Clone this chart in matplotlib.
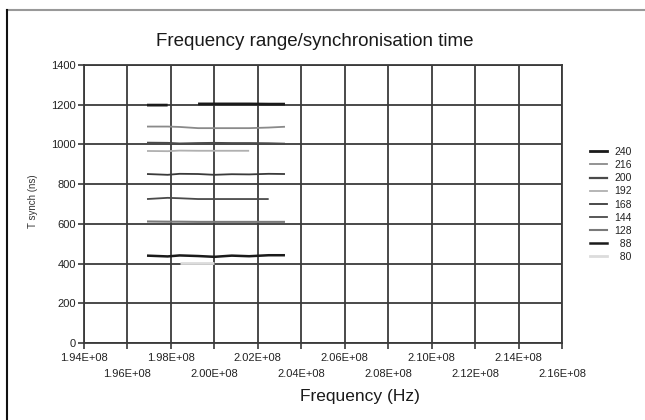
import numpy as np
import matplotlib
matplotlib.use("Agg")
import matplotlib.pyplot as plt
from matplotlib.lines import Line2D
from matplotlib.transforms import Bbox, TransformedBbox

plt.rcParams['font.family'] = ['Liberation Sans', 'DejaVu Sans']

# ---- data ----
freq = [1.969e8, 1.9785e8, 1.984e8, 1.9925e8, 2.000e8, 2.008e8, 2.016e8, 2.025e8, 2.0325e8]
nan = np.nan
t_2400 = [1198, 1198, nan, 1204, 1204, 1204, 1204, 1203, 1203]
t_2160 = [1090, 1090, 1088, 1082, 1082, 1082, 1082, 1085, 1089]
t_2000 = [1008, 1007, 1004, 1006, 1007, 1006, 1006, 1005, 1003]
t_1920 = [967, 966, 969, 968, 968, 968, 968, nan, nan]
t_1680 = [851, 847, 852, 851, 847, 850, 849, 852, 851]
t_1440 = [725, 731, 729, 725, 725, 725, 725, 725, nan]
t_1280 = [612, 611, 611, 610, 610, 610, 610, 610, 610]
t_880 = [440, 436, 441, 438, 434, 440, 437, 442, 442]
t_800 = [nan, nan, 404, 404, 404, nan, nan, nan, nan]

series_labels = ["2400", "2160", "2000", "1920", "1680", "1440", "1280", "\u2007880", "\u2007800"]
series_values = [t_2400, t_2160, t_2000, t_1920, t_1680, t_1440, t_1280, t_880, t_800]

xticks_major = [1.94e8, 1.98e8, 2.02e8, 2.06e8, 2.10e8, 2.14e8]
xticks_major_labels = ["1.94E+08", "1.98E+08", "2.02E+08", "2.06E+08", "2.10E+08", "2.14E+08"]
xticks_minor = [1.96e8, 2.00e8, 2.04e8, 2.08e8, 2.12e8, 2.16e8]
xticks_minor_labels = ["1.96E+08", "2.00E+08", "2.04E+08", "2.08E+08", "2.12E+08", "2.16E+08"]
yticks = [0, 200, 400, 600, 800, 1000, 1200, 1400]

# ---- styles ----
colors = ["#1a1a1a", "#8a8a8a", "#4a4a4a", "#b0b0b0", "#3a3a3a", "#4a4a4a", "#7a7a7a", "#1a1a1a", "#dcdcdc"]
widths = [2.0, 1.3, 1.6, 1.3, 1.3, 1.3, 1.5, 1.8, 2.0]

W, H = 645, 420
fig = plt.figure(figsize=(W / 100, H / 100), dpi=100)
ax = fig.add_axes([84 / W, 1 - 343 / H, (562 - 84) / W, (343 - 65) / H])

gridc = "#3a3a3a"
ax.set_xlim(1.94e8, 2.16e8)
ax.set_ylim(0, 1400)
ax.set_xticks(xticks_major)
ax.set_xticklabels(xticks_major_labels)
ax.set_xticks(xticks_minor, minor=True)
ax.set_xticklabels(xticks_minor_labels, minor=True)
ax.set_yticks(yticks)
ax.set_yticklabels([str(v) for v in yticks])
ax.tick_params(axis='x', which='major', length=4, width=1.2, color=gridc, pad=3.5, labelsize=8, labelcolor="#222222")
ax.tick_params(axis='x', which='minor', length=4, width=1.2, color=gridc, pad=15, labelsize=8, labelcolor="#222222")
ax.tick_params(axis='y', length=4, width=1.2, color=gridc, pad=2, labelsize=8, labelcolor="#222222")
ax.grid(which='both', color=gridc, lw=1.3, zorder=1)
ax.set_axisbelow(True)
for s in ax.spines.values():
    s.set_color(gridc)
    s.set_linewidth(1.3)

handles = []
for lab, vals, c, w in zip(series_labels, series_values, colors, widths):
    ln, = ax.plot(freq, vals, color=c, lw=w, zorder=3, solid_capstyle='butt')
    handles.append(Line2D([], [], color=c, lw=w))

leg = fig.legend(handles, series_labels, loc='upper left',
                 bbox_to_anchor=(590 / W, 1 - 147 / H), frameon=False,
                 fontsize=7.5, handlelength=1.6, handletextpad=0.7,
                 labelspacing=0.3, borderpad=0, borderaxespad=0)
clipbox = TransformedBbox(Bbox([[0, 0], [631 / W, 1]]), fig.transFigure)
for t in leg.get_texts():
    t.set_color("#222222")
    t.set_clip_box(clipbox)
    t.set_clip_on(True)

fig.text(315 / W, 1 - 42 / H, "Frequency range/synchronisation time", ha='center', va='center',
         fontsize=13.5, color="#1a1a1a")
fig.text(360 / W, 1 - 397 / H, "Frequency (Hz)", ha='center', va='center',
         fontsize=12.5, color="#1a1a1a")
fig.text(33 / W, 1 - 201 / H, "T synch (ns)", ha='center', va='center', rotation=90,
         fontsize=7, color="#333333")

# outer frame (top and left edges visible)
fig.add_artist(Line2D([6.5 / W, 1], [1 - 9.5 / H, 1 - 9.5 / H], transform=fig.transFigure, color="#999999", lw=1.5))
fig.add_artist(Line2D([6.5 / W, 6.5 / W], [0, 1 - 9.5 / H], transform=fig.transFigure, color="#111111", lw=1.5))

fig.savefig("out.png", dpi=100)
